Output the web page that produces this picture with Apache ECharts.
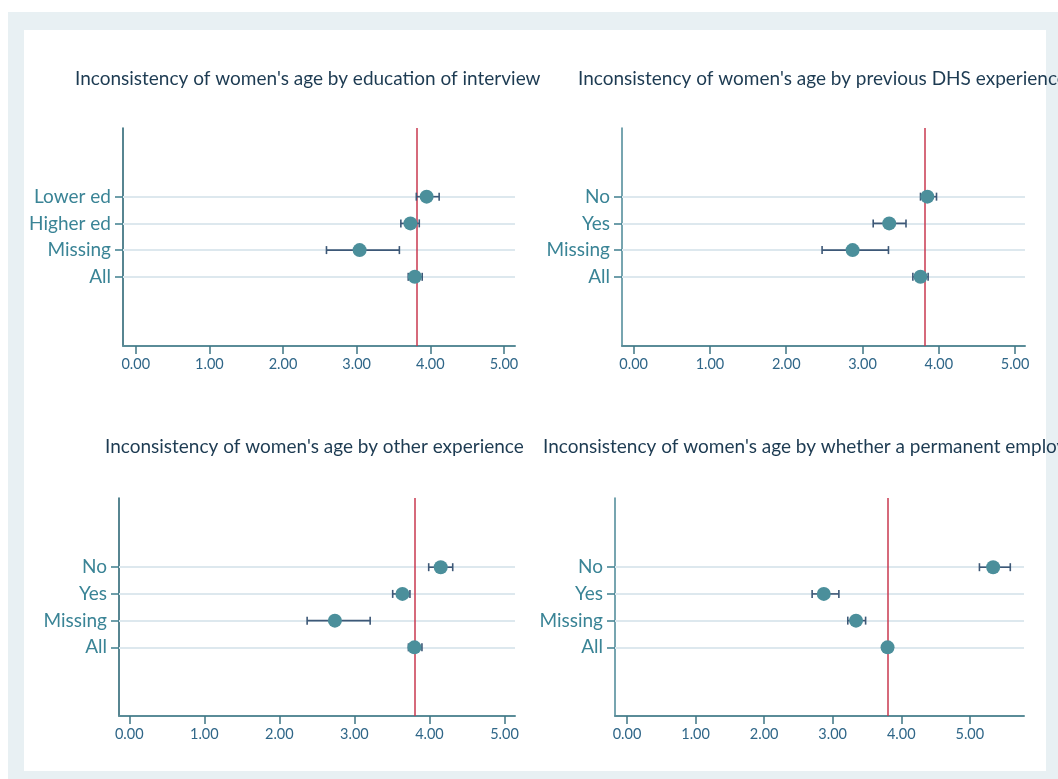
<!DOCTYPE html>
<html>
<head>
<meta charset="utf-8">
<script src="https://cdn.jsdelivr.net/npm/echarts@6/dist/echarts.min.js"></script>
<style>
  html, body { margin: 0; padding: 0; background: #ffffff; }
  #c { width: 1058px; height: 779px; }
</style>
</head>
<body>
<div id="c"></div>
<script>
// Panel titles
const panelTitles = [
  "Inconsistency of women's age by education of interviewer",
  "Inconsistency of women's age by previous DHS experience",
  "Inconsistency of women's age by other experience",
  "Inconsistency of women's age by whether a permanent employee"
];

// Category labels (top to bottom)
const edCategories = ['Lower ed', 'Higher ed', 'Missing', 'All'];
const ynCategories = ['No', 'Yes', 'Missing', 'All'];

// Education of interviewer: mean and 95% CI
const edMean = [3.95, 3.73, 3.04, 3.79];
const edLow  = [3.81, 3.60, 2.59, 3.70];
const edHigh = [4.12, 3.85, 3.58, 3.89];

// Previous DHS experience
const dhsMean = [3.85, 3.35, 2.87, 3.76];
const dhsLow  = [3.76, 3.14, 2.47, 3.66];
const dhsHigh = [3.97, 3.57, 3.34, 3.86];

// Other experience
const otherMean = [4.15, 3.64, 2.74, 3.80];
const otherLow  = [3.99, 3.51, 2.37, 3.72];
const otherHigh = [4.31, 3.74, 3.21, 3.90];

// Permanent employee
const permMean = [5.34, 2.87, 3.34, 3.80];
const permLow  = [5.14, 2.70, 3.22, 3.73];
const permHigh = [5.59, 3.09, 3.48, 3.87];

// Overall reference value
const referenceValue = 3.81;

// Axis ticks
const xTickValues = [0, 1, 2, 3, 4, 5];
const yTickValues = [4, 3, 2, 1];

const panels = [
  { title: panelTitles[0], cats: edCategories, mean: edMean, low: edLow, high: edHigh },
  { title: panelTitles[1], cats: ynCategories, mean: dhsMean, low: dhsLow, high: dhsHigh },
  { title: panelTitles[2], cats: ynCategories, mean: otherMean, low: otherLow, high: otherHigh },
  { title: panelTitles[3], cats: ynCategories, mean: permMean, low: permLow, high: permHigh }
];

// Layout of each panel
const layout = [
  { grid: { left: 123, right: 543, top: 128, bottom: 433 }, xMin: -0.173, xMax: 5.15, yMin: -1.59, yMax: 6.57,
    title: { left: 75, top: 69, width: 470 } },
  { grid: { left: 622, right: 33, top: 128, bottom: 433 }, xMin: -0.153, xMax: 5.13, yMin: -1.59, yMax: 6.57,
    title: { left: 578, top: 69 } },
  { grid: { left: 119, right: 543, top: 498, bottom: 63 }, xMin: -0.137, xMax: 5.14, yMin: -1.57, yMax: 6.59,
    title: { left: 105, top: 437 } },
  { grid: { left: 615, right: 34, top: 498, bottom: 63 }, xMin: -0.175, xMax: 5.79, yMin: -1.57, yMax: 6.59,
    title: { left: 543, top: 437 } }
];

const FONT = "Lato, 'Open Sans', sans-serif";
const yAxisColors = ['#1f5c6c', '#4a8796', '#1f5c6c', '#4a8796'];

const option = {
  backgroundColor: '#ffffff',
  animation: false,
  graphic: [
    { type: 'rect', z: -10, silent: true, shape: { x: 8, y: 12, width: 1050, height: 767 }, style: { fill: '#e8f0f3' } },
    { type: 'rect', z: -9, silent: true, shape: { x: 24, y: 30, width: 1022, height: 741 }, style: { fill: '#ffffff' } }
  ],
  title: [],
  grid: [],
  xAxis: [],
  yAxis: [],
  series: []
};

panels.forEach(function (p, i) {
  const L = layout[i];
  const titleOpt = {
    text: p.title,
    left: L.title.left,
    top: L.title.top,
    padding: 0,
    textStyle: { fontFamily: FONT, fontSize: 19, fontWeight: 'normal', color: '#1d3b52' }
  };
  if (L.title.width) {
    titleOpt.textStyle.width = L.title.width;
    titleOpt.textStyle.overflow = 'truncate';
    titleOpt.textStyle.ellipsis = '';
  }
  option.title.push(titleOpt);

  option.grid.push(Object.assign({ containLabel: false }, L.grid));

  option.xAxis.push({
    gridIndex: i,
    type: 'value',
    min: L.xMin,
    max: L.xMax,
    axisLine: { show: true, onZero: false, lineStyle: { color: '#5a8c98', width: 2 } },
    axisTick: { show: true, customValues: xTickValues, length: 8, lineStyle: { color: '#3f7584', width: 1.5 } },
    axisLabel: {
      customValues: xTickValues,
      formatter: function (v) { return Number(v).toFixed(2); },
      color: '#2f6688', fontFamily: FONT, fontSize: 14.5, margin: 11
    },
    splitLine: { show: false }
  });

  option.yAxis.push({
    gridIndex: i,
    type: 'value',
    min: L.yMin,
    max: L.yMax,
    axisLine: { show: true, onZero: false, lineStyle: { color: yAxisColors[i], width: 1.5 } },
    axisTick: { show: true, customValues: yTickValues, length: 8, lineStyle: { color: '#3f7f8e', width: 1.5 } },
    axisLabel: {
      customValues: yTickValues,
      formatter: function (v) { return p.cats[4 - Math.round(v)]; },
      color: '#3a8496', fontFamily: FONT, fontSize: 19, margin: 12
    },
    splitLine: { show: false }
  });

  // Horizontal guide lines at each category and the overall reference line
  option.series.push({
    type: 'scatter',
    xAxisIndex: i,
    yAxisIndex: i,
    data: [],
    silent: true,
    z: 1,
    markLine: {
      silent: true,
      symbol: ['none', 'none'],
      label: { show: false },
      animation: false,
      data: yTickValues.map(function (v) {
        return { yAxis: v, lineStyle: { color: '#dde8ee', width: 2, type: 'solid' } };
      }).concat([{ xAxis: referenceValue, lineStyle: { color: '#c8394f', width: 1.5, type: 'solid' } }])
    }
  });

  // Confidence interval bars
  option.series.push({
    type: 'custom',
    xAxisIndex: i,
    yAxisIndex: i,
    z: 10,
    silent: true,
    data: p.cats.map(function (c, k) { return [p.low[k], p.high[k], 4 - k]; }),
    renderItem: function (params, api) {
      const a = api.coord([api.value(0), api.value(2)]);
      const b = api.coord([api.value(1), api.value(2)]);
      const cap = 4;
      const style = { stroke: '#3d5877', lineWidth: 1.6, fill: null };
      return {
        type: 'group',
        children: [
          { type: 'line', shape: { x1: a[0], y1: a[1], x2: b[0], y2: b[1] }, style: style },
          { type: 'line', shape: { x1: a[0], y1: a[1] - cap, x2: a[0], y2: a[1] + cap }, style: style },
          { type: 'line', shape: { x1: b[0], y1: b[1] - cap, x2: b[0], y2: b[1] + cap }, style: style }
        ]
      };
    }
  });

  // Point estimates
  option.series.push({
    type: 'scatter',
    xAxisIndex: i,
    yAxisIndex: i,
    z: 11,
    symbol: 'circle',
    symbolSize: 14,
    itemStyle: { color: '#4b8f9b', opacity: 1 },
    data: p.cats.map(function (c, k) { return [p.mean[k], 4 - k]; })
  });
});

const chart = echarts.init(document.getElementById('c'));
chart.setOption(option);
</script>
</body>
</html>
